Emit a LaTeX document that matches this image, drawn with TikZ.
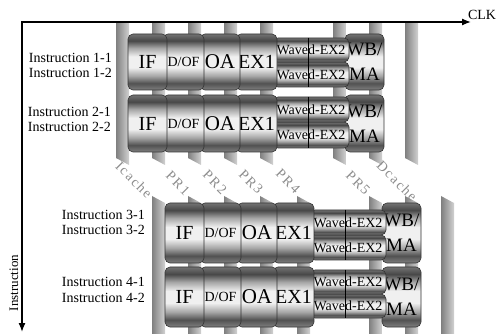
\documentclass[tikz,border=0pt]{standalone}
\usepackage{fontspec}
\setmainfont{Liberation Serif}
\newfontfamily\diagfont[LetterSpace=12]{Liberation Serif}
\usetikzlibrary{arrows.meta}
\pgfdeclareverticalshading{cyl}{100bp}{color(0bp)=(black!50); color(25bp)=(black!50); color(31bp)=(black!68); color(37.5bp)=(black!35); color(45bp)=(black!6); color(55bp)=(black!6); color(62.5bp)=(black!35); color(69bp)=(black!72); color(75bp)=(black!55); color(100bp)=(black!55)}
\newcommand\stg[7]{%
  \node[stagebox, minimum width={(#3)-(#2)+4}, minimum height={(#5)-(#4)}, font=#7]
    (#1) at ({((#2)+(#3))/2+2},{((#4)+(#5))/2}) {#6};}
\begin{document}
\begin{tikzpicture}[x=1pt,y=-1pt,
  stagebox/.style={draw=black!80, line width=0.6pt, rounded corners=5pt, shading=cyl, inner sep=0pt, align=center},
  barshade/.style={left color=black!50, right color=black!18},
  axisline/.style={line width=1.3pt, {Latex[length=9pt,width=7pt]}-{Latex[length=9pt,width=7pt]}},
  instlabel/.style={anchor=base east, font=\fontsize{14}{14}\selectfont, inner sep=0pt},
  diaglabel/.style={font=\diagfont\fontsize{14}{14}\selectfont, text=black!45, rotate=-45, inner sep=0pt}]
\useasboundingbox (0,0) rectangle (496,334);
% register bars, upper block
\foreach \x in {116,152,188,224,260,333,369,405}
  \shade[barshade] (\x,23) -- ({\x+13},23) -- ({\x+13},165) -- (\x,158) -- cycle;
% register bars, lower block
\foreach \x in {152,188,224,260,297,369,405,441}
  \shade[barshade] (\x,196) -- ({\x+13},203) -- ({\x+13},334) -- (\x,334) -- cycle;
% pipeline rows
\foreach \r/\dx/\ya/\yb/\ea/\em/\eb in {1/0/34/90/38/62/87, 2/0/95/152/97/122/148, 3/37/203/263/210/235/260, 4/37/267/327/270/294/318}{
  \stg{wb\r}{345+\dx}{380+\dx}{\ya}{\yb}{WB/\\MA}{\fontsize{19}{25}\selectfont}
  \stg{exb\r}{273+\dx}{345+\dx}{\em}{\eb}{Waved-EX2}{\fontsize{14}{14}\selectfont}
  \stg{exa\r}{273+\dx}{345+\dx}{\ea}{\em}{Waved-EX2}{\fontsize{14}{14}\selectfont}
  \draw[line width=0.6pt] ([xshift=-3pt]exa\r.north) -- ([xshift=-3pt]exb\r.south);
  \stg{exi\r}{236+\dx}{273+\dx}{\ya}{\yb}{EX1}{\fontsize{20}{20}\selectfont}
  \stg{oa\r}{200+\dx}{236+\dx}{\ya}{\yb}{OA}{\fontsize{21}{21}\selectfont}
  \stg{dof\r}{163+\dx}{200+\dx}{\ya}{\yb}{D/OF}{\fontsize{14}{14}\selectfont}
  \stg{if\r}{128+\dx}{163+\dx}{\ya}{\yb}{IF}{\fontsize{20}{20}\selectfont}
}
% diagonal register labels
\node[diaglabel] (lic) at (134,180) {Icache};
\node[diaglabel] (lp1) at (178,183) {PR1};
\node[diaglabel] (lp2) at (215,182) {PR2};
\node[diaglabel] (lp3) at (251,182) {PR3};
\node[diaglabel] (lp4) at (288,181) {PR4};
\node[diaglabel] (lp5) at (358,183) {PR5};
\node[diaglabel] (ldc) at (397,181) {Dcache};
% instruction labels
\node[instlabel] (i11) at (112,63) {Instruction 1-1};
\node[instlabel] (i12) at (112,78) {Instruction 1-2};
\node[instlabel] (i21) at (111,117) {Instruction 2-1};
\node[instlabel] (i22) at (111,132) {Instruction 2-2};
\node[instlabel] (i31) at (145,220) {Instruction 3-1};
\node[instlabel] (i32) at (145,235) {Instruction 3-2};
\node[instlabel] (i41) at (145,287) {Instruction 4-1};
\node[instlabel] (i42) at (145,302) {Instruction 4-2};
% axes
\coordinate (origin) at (22,22);
\coordinate (clkend) at (471,22);
\coordinate (insend) at (22,332);
\draw[axisline] (clkend) -- (origin) -- (insend);
\node[font=\fontsize{14}{14}\selectfont, inner sep=0pt] (clk) at (482,15) {CLK};
\node[rotate=90, font=\fontsize{13}{13}\selectfont, inner sep=0pt] (inst) at (14,283) {Instruction};
\end{tikzpicture}
\end{document}
